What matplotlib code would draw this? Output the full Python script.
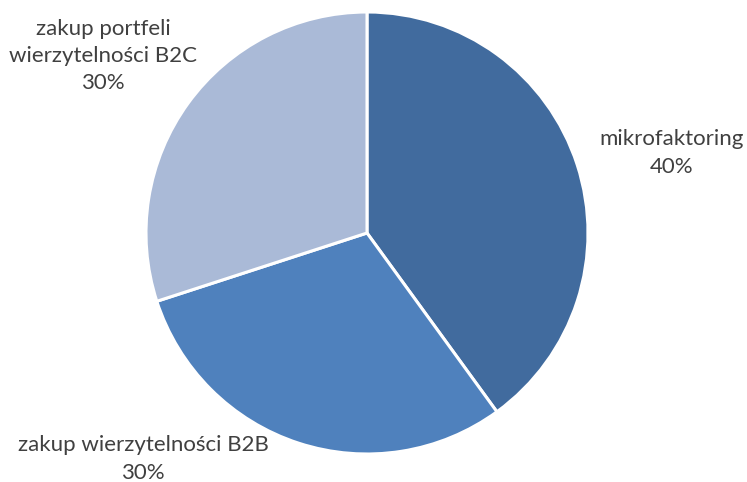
import matplotlib
matplotlib.use("Agg")
import matplotlib.pyplot as plt

categories = ["mikrofaktoring", "zakup wierzytelności B2B", "zakup portfeli\nwierzytelności B2C"]
values = [40, 30, 30]
colors = ["#416B9E", "#4F81BD", "#AABAD7"]

plt.rcParams["font.family"] = ["Lato", "DejaVu Sans"]

W, H = 747, 482
fig = plt.figure(figsize=(W / 100, H / 100), dpi=100)
cx, cy, r = 367, 233, 221
ax = fig.add_axes([(cx - r) / W, (H - cy - r) / H, 2 * r / W, 2 * r / H])

wedges, _ = ax.pie(values, colors=colors, startangle=90, counterclock=False,
                   radius=1, wedgeprops=dict(edgecolor="white", linewidth=2.2))
ax.set_xlim(-1, 1)
ax.set_ylim(-1, 1)
ax.set_aspect("equal")
ax.axis("off")

# label centres in pixel coordinates of the figure
label_pos = [(672, 153), (143, 459), (103, 56)]
for cat, val, (px, py) in zip(categories, values, label_pos):
    fig.text(px / W, 1 - py / H, f"{cat}\n{val}%", ha="center", va="center",
             fontsize=16, color="#404040", linespacing=1.45)

fig.savefig("out.png", dpi=100)
